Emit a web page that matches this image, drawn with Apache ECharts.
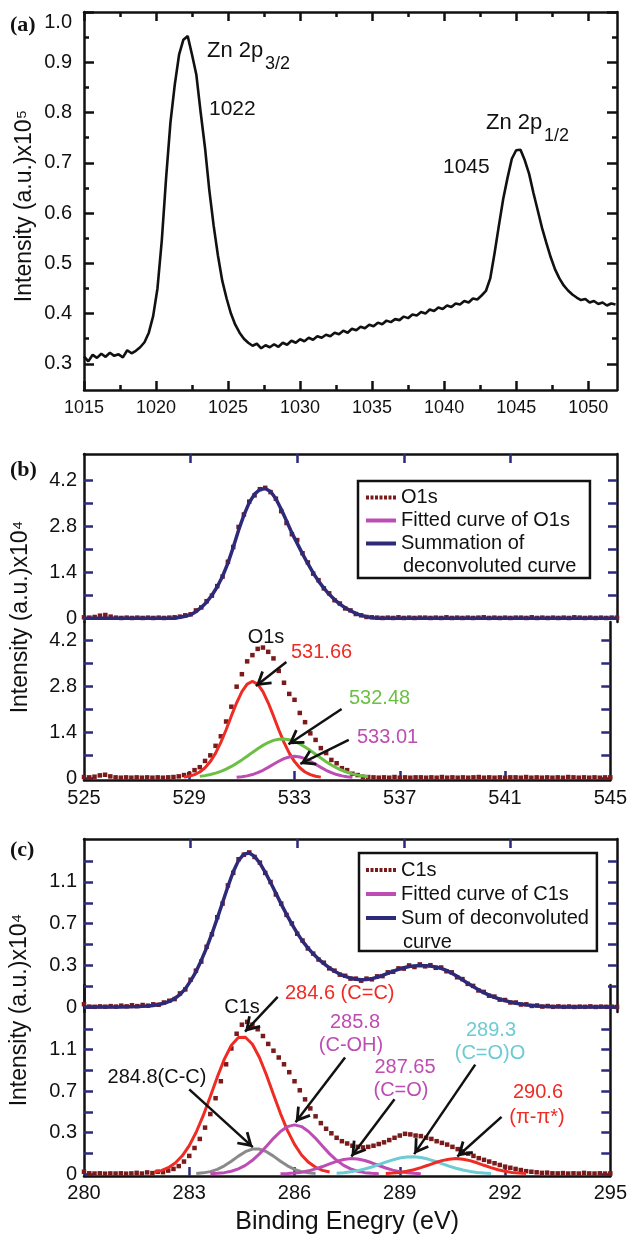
<!DOCTYPE html>
<html>
<head>
<meta charset="utf-8">
<title>XPS spectra</title>
<script src="https://cdn.jsdelivr.net/npm/echarts@6/dist/echarts.min.js"></script>
<style>
html, body { margin: 0; padding: 0; background: #fff; }
#chart { width: 630px; height: 1236px; }
</style>
</head>
<body>
<div id="chart"></div>
<script>
// energy grids (start, step, count)
function grid(start, step, n) {
    var out = [];
    for (var i = 0; i < n; i++) out.push(Math.round((start + i * step) * 100) / 100);
    return out;
}
function pairs(xs, ys) {
    return xs.map(function (x, i) { return [x, ys[i]]; });
}

// ---- (a) Zn 2p ----
var znEnergy = grid(1015, 0.3, 124);
var znIntensity = [
    0.315,0.305,0.318,0.312,0.320,0.314,0.322,0.316,0.319,0.313,
    0.327,0.321,0.326,0.333,0.343,0.362,0.395,0.450,0.545,0.670,
    0.780,0.855,0.915,0.945,0.952,0.915,0.875,0.800,0.730,0.645,
    0.575,0.515,0.465,0.430,0.400,0.378,0.362,0.350,0.342,0.336,
    0.340,0.331,0.337,0.333,0.339,0.334,0.342,0.338,0.346,0.342,
    0.349,0.345,0.352,0.348,0.355,0.352,0.358,0.355,0.362,0.359,
    0.366,0.362,0.370,0.367,0.374,0.371,0.378,0.375,0.382,0.379,
    0.386,0.383,0.389,0.387,0.394,0.391,0.398,0.396,0.403,0.400,
    0.408,0.405,0.412,0.409,0.416,0.413,0.420,0.418,0.425,0.422,
    0.430,0.428,0.436,0.445,0.470,0.520,0.575,0.628,0.670,0.708,
    0.725,0.726,0.705,0.678,0.640,0.605,0.570,0.540,0.512,0.488,
    0.470,0.456,0.446,0.438,0.432,0.427,0.429,0.422,0.425,0.419,
    0.422,0.416,0.420,0.418
];
var znTicksX = [1015, 1020, 1025, 1030, 1035, 1040, 1045, 1050];
var znMinorX = [1017.5, 1022.5, 1027.5, 1032.5, 1037.5, 1042.5, 1047.5];
var znTicksY = [0.3, 0.4, 0.5, 0.6, 0.7, 0.8, 0.9, 1.0];
var znMinorY = [0.35, 0.45, 0.55, 0.65, 0.75, 0.85, 0.95];

// ---- (b) O1s ----
var o1sEnergy = grid(525, 0.2, 101);
var o1sData = [
    0.03,0.02,0.04,0.08,0.10,0.05,0.02,0.01,0.02,0.01,0.02,0.01,0.02,0.01,0.02,0.01,0.02,0.03,
    0.05,0.09,0.12,0.24,0.33,0.52,0.69,0.98,1.27,1.72,
    2.17,2.78,3.16,3.55,3.74,3.93,3.97,3.84,3.64,3.26,
    2.90,2.56,2.38,1.98,1.70,1.36,1.16,0.91,0.76,0.55,
    0.45,0.30,0.24,0.13,0.09,0.04,0.03,
    0.02,0.01,0.02,0.01,0.03,0.01,0.02,0.01,0.02,0.02,
    0.01,0.02,0.01,0.03,0.01,0.02,0.01,0.02,0.01,0.02,
    0.03,0.01,0.02,0.01,0.02,0.01,0.02,0.02,0.01,0.03,
    0.01,0.02,0.01,0.02,0.01,0.02,0.01,0.03,0.02,0.01,
    0.02,0.01,0.02,0.01,0.02,0.02
];
var o1sSum = [
    0,0,0,0,0,0,0,0,0,0,0,0,0,0,0,0,0,0,
    0.03,0.06,0.11,0.20,0.33,0.49,0.70,0.96,1.28,1.68,
    2.16,2.68,3.14,3.52,3.78,3.92,3.95,3.86,3.64,3.32,
    2.96,2.60,2.28,1.96,1.66,1.38,1.13,0.92,0.73,0.57,
    0.43,0.32,0.23,0.15,0.09,0.05,0.02,
    0,0,0,0,0,0,0,0,0,0,0,0,0,0,0,0,0,0,0,0,0,0,0,
    0,0,0,0,0,0,0,0,0,0,0,0,0,0,0,0,0,0,0,0,0,0,0
];
var o1sPeak1 = [0.027,0.054,0.103,0.184,0.313,0.500,0.758,1.085,1.47,1.89,2.29,2.63,2.86,2.94,
    2.86,2.63,2.29,1.89,1.47,1.085,0.758,0.50,0.313,0.184,0.103,0.054,0.027];
var o1sPeak1Start = 528.8;
var o1sPeak2 = [0.05,0.073,0.106,0.149,0.203,0.271,0.352,0.446,0.552,0.664,0.78,0.891,0.994,1.08,
    1.145,1.18,1.19,1.166,1.115,1.04,0.945,0.836,0.722,0.607,0.498,0.398,0.31,0.236,0.174,
    0.126,0.088,0.061,0.04];
var o1sPeak2Start = 529.4;
var o1sPeak3 = [0.021,0.038,0.065,0.106,0.163,0.236,0.323,0.418,0.51,0.589,0.641,0.66,
    0.641,0.589,0.51,0.418,0.323,0.236,0.163,0.106,0.065,0.038,0.021];
var o1sPeak3Start = 530.8;
var o1sTicksX = [529, 533, 537, 541];
var o1sLabelsX = [525, 529, 533, 537, 541, 545];
var o1sTicksY = [0, 0.7, 1.4, 2.1, 2.8, 3.5, 4.2];
var o1sLabelsY = [0, 1.4, 2.8, 4.2];
var o1sArrows = [
    [[532.69, 3.53], [531.53, 2.80]],
    [[534.79, 2.10], [532.77, 1.03]],
    [[535.06, 1.16], [533.22, 0.43]]
];

// ---- (c) C1s ----
var c1sEnergy = grid(280, 0.15, 101);
var c1sTop = [
    0.025,0.004,0.002,0.006,0.003,0.008,0.004,0.012,0.006,0.016,
    0.008,0.018,0.012,0.024,0.02,0.04,0.055,0.07,0.12,0.155,
    0.24,0.32,0.40,0.53,0.64,0.79,0.91,1.07,1.18,1.30,
    1.34,1.36,1.32,1.27,1.18,1.10,0.99,0.91,0.81,0.735,
    0.645,0.585,0.515,0.47,0.418,0.39,0.34,0.32,0.285,0.275,
    0.25,0.25,0.232,0.25,0.244,0.27,0.272,0.305,0.31,0.34,
    0.338,0.366,0.352,0.375,0.358,0.368,0.345,0.348,0.315,0.305,
    0.262,0.246,0.204,0.186,0.146,0.133,0.1,0.092,0.065,0.062,
    0.04,0.04,0.022,0.024,0.01,0.014,0.004,0.009,0.002,0.006,
    0.002,0.005,0.001,0.004,0.002,0.006,0.001,0.004,0.002,0.003,0.001
];
var c1sSum = [
    0,0,0,0,0,0,0,0,0.002,0.003,
    0.004,0.006,0.009,0.014,0.022,0.033,0.05,0.075,0.11,0.16,
    0.23,0.31,0.41,0.52,0.645,0.78,0.92,1.06,1.19,1.29,
    1.345,1.355,1.325,1.265,1.185,1.095,1.0,0.905,0.815,0.73,
    0.65,0.58,0.52,0.468,0.422,0.382,0.346,0.315,0.29,0.27,
    0.255,0.245,0.24,0.242,0.25,0.262,0.278,0.296,0.315,0.332,
    0.346,0.356,0.362,0.365,0.364,0.36,0.352,0.34,0.322,0.298,
    0.27,0.24,0.21,0.18,0.152,0.127,0.105,0.086,0.07,0.056,
    0.044,0.034,0.026,0.019,0.014,0.01,0.007,0.005,0.003,0.002,
    0,0,0,0,0,0,0,0,0,0,0
];
var c1sBottom = [
    0.02,0.006,0.004,0.006,0.003,0.005,0.004,0.006,0.003,0.005,
    0.01,0.004,0.014,0.008,0.02,0.016,0.03,0.045,0.07,0.11,
    0.16,0.23,0.31,0.41,0.53,0.67,0.82,0.97,1.11,1.24,
    1.32,1.345,1.32,1.28,1.22,1.15,1.09,1.03,0.97,0.90,
    0.82,0.74,0.66,0.58,0.51,0.45,0.40,0.36,0.32,0.29,
    0.27,0.25,0.24,0.235,0.24,0.25,0.265,0.28,0.30,0.32,
    0.34,0.355,0.35,0.34,0.335,0.32,0.31,0.29,0.275,0.26,
    0.24,0.22,0.20,0.18,0.16,0.14,0.125,0.11,0.095,0.08,
    0.065,0.055,0.045,0.035,0.025,0.02,0.015,0.01,0.012,0.006,
    0.005,0.008,0.004,0.006,0.004,0.01,0.005,0.004,0.006,0.004,0.005
];
var ccPeak = [0.016,0.030,0.056,0.097,0.161,0.251,0.371,0.518,0.686,0.858,1.016,1.138,1.206,
    1.209,1.147,1.03,0.875,0.703,0.534,0.384,0.262,0.168,0.103,0.059,0.032,0.017];
var ccPeakStart = 282.0;
var cSinglePeak = [0.004,0.01,0.021,0.041,0.072,0.113,0.158,0.197,0.22,0.22,0.197,0.158,
    0.113,0.072,0.041,0.021,0.01,0.004];
var cSinglePeakStart = 283.2;
var cohPeak = [0.003,0.006,0.012,0.024,0.045,0.076,0.121,0.178,0.246,0.315,0.376,0.419,0.434,
    0.419,0.376,0.315,0.246,0.178,0.121,0.076,0.045,0.024,0.012,0.006,0.003];
var cohPeakStart = 283.6;
var coPeak = [0.002,0.004,0.009,0.016,0.028,0.045,0.066,0.089,0.112,0.128,0.136,0.132,0.119,
    0.099,0.075,0.053,0.034,0.021,0.011,0.006,0.003];
var coPeakStart = 285.6;
var cooPeak = [0.006,0.011,0.019,0.030,0.044,0.062,0.083,0.105,0.125,0.141,0.151,0.153,0.146,
    0.132,0.113,0.092,0.070,0.051,0.035,0.023,0.014,0.008,0.004];
var cooPeakStart = 287.2;
var piPeak = [0.004,0.008,0.014,0.024,0.038,0.056,0.077,0.099,0.118,0.131,0.136,0.131,0.118,
    0.099,0.077,0.056,0.038,0.024,0.014,0.008,0.004];
var piPeakStart = 288.6;
var c1sTicksX = [283, 286, 289, 292];
var c1sLabelsX = [280, 283, 286, 289, 292, 295];
var c1sTicksY = [0, 0.18333, 0.36667, 0.55, 0.73333, 0.91667, 1.1, 1.28333];
var c1sLabelsY = [0, 0.36667, 0.73333, 1.1];
var c1sLabelText = ['0', '0.3', '0.7', '1.1'];
var c1sArrows = [
    [[285.52, 1.566], [284.59, 1.258]],
    [[283.0, 0.748], [284.81, 0.237]],
    [[287.44, 1.03], [286.03, 0.457]],
    [[288.85, 0.66], [287.62, 0.155]],
    [[291.15, 0.967], [289.41, 0.176]],
    [[291.9, 0.505], [290.64, 0.155]]
];

var FONT = '"Liberation Sans", Arial, Helvetica, sans-serif';
var SERIF = '"Liberation Serif", "Times New Roman", serif';
var BLACK = '#111111';
var NAVY = '#2d2a7a';
var DARKRED = '#7a1a1a';
var RED = '#ee2c24';
var GREEN = '#6cbf45';
var MAGENTA = '#bd4db3';
var CYAN = '#6ccbd3';
var GRAY = '#8a8a8a';
var ARROW = 'path://M0,-15.5L0.01,-15.5L0,-15.4Z M0,0L9,14L6.5,15.5L0,5.5L-6.5,15.5L-9,14Z';
var DOTS = 'path://M0 0h3v4h-3zM4.5 0h3v4h-3zM9 0h3v4h-3zM13.5 0h3v4h-3zM18 0h3v4h-3zM22.5 0h3v4h-3zM27 0h3v4h-3z';
var BAR = 'path://M0 0h30v4h-30z';

function axis(gridIndex, position, min, max, o) {
    return {
        type: 'value', gridIndex: gridIndex, position: position, min: min, max: max,
        axisLine: {show: o.line !== false, onZero: false, lineStyle: {color: BLACK, width: 2.5}},
        axisTick: {show: true, inside: true, length: o.len || 9, customValues: o.ticks,
            lineStyle: {color: o.tickColor || NAVY, width: 2.5}},
        axisLabel: o.labels ? {
            show: true, customValues: o.labels, margin: o.margin || 7, color: BLACK,
            fontSize: o.fontSize || 20, fontFamily: FONT,
            formatter: o.formatter || function (v) { return String(v); },
            verticalAlignMaxLabel: o.topLabel
        } : {show: false},
        splitLine: {show: false}
    };
}
function fmt1(v) { return v === 0 ? '0' : v.toFixed(1); }

function peakLine(name, start, values, color, xi, yi, extra) {
    var s = {
        name: name, type: 'line', xAxisIndex: xi, yAxisIndex: yi,
        data: pairs(grid(start, 0.2, values.length), values),
        symbol: 'none', lineStyle: {color: color, width: 3}, itemStyle: {color: color}, z: 4
    };
    if (extra) s.markLine = extra;
    return s;
}
function squares(name, xs, ys, xi, yi) {
    return {
        name: name, type: 'line', xAxisIndex: xi, yAxisIndex: yi, data: pairs(xs, ys),
        symbol: 'rect', symbolSize: 4.5, showAllSymbol: true,
        lineStyle: {width: 0, opacity: 0}, itemStyle: {color: DARKRED}, z: 2
    };
}
function arrows(list) {
    return {
        silent: true, symbol: ['none', ARROW], symbolSize: [17, 30],
        label: {show: false}, emphasis: {disabled: true},
        lineStyle: {color: BLACK, width: 2.5, type: 'solid'},
        data: list.map(function (a) { return [{coord: a[0]}, {coord: a[1]}]; })
    };
}
function text(t, x, y, color, size, align) {
    return {type: 'text', x: x, y: y, silent: true,
        style: {text: t, fill: color || BLACK, font: (size || 20) + 'px ' + FONT,
            align: align || 'left', verticalAlign: 'middle'}};
}
function vtext(t, x, y) {
    var g = text(t, x, y, BLACK, 23, 'center');
    g.rotation = Math.PI / 2;
    return g;
}

var option = {
    animation: false,
    backgroundColor: '#fff',
    grid: [
        {left: 84, top: 12, width: 533, height: 378},
        {left: 84, top: 454, width: 533, height: 168},
        {left: 84, top: 622, width: 533, height: 158},
        {left: 84, top: 839, width: 533, height: 173},
        {left: 84, top: 985, width: 533, height: 192}
    ],
    xAxis: [
        axis(0, 'bottom', 1015, 1052, {ticks: znTicksX, tickColor: BLACK, len: 9, labels: znTicksX, fontSize: 18, margin: 9}),
        axis(0, 'bottom', 1015, 1052, {ticks: znMinorX, tickColor: BLACK, len: 5, line: false}),
        axis(0, 'top', 1015, 1052, {ticks: znTicksX, tickColor: BLACK, len: 9}),
        axis(0, 'top', 1015, 1052, {ticks: znMinorX, tickColor: BLACK, len: 5, line: false}),
        axis(1, 'top', 525, 545, {ticks: o1sTicksX}),
        axis(2, 'bottom', 525, 545, {ticks: o1sTicksX, labels: o1sLabelsX, margin: 8}),
        axis(3, 'top', 280, 295, {ticks: c1sTicksX}),
        Object.assign(axis(4, 'bottom', 280, 295, {ticks: c1sTicksX, labels: c1sLabelsX, margin: 7}), {
            name: 'Binding Enegry (eV)', nameLocation: 'middle', nameGap: 34,
            nameTextStyle: {fontSize: 25, fontFamily: FONT, color: BLACK}
        })
    ],
    yAxis: [
        axis(0, 'left', 0.248, 1.0, {ticks: znTicksY, tickColor: BLACK, len: 10, labels: znTicksY,
            formatter: fmt1, margin: 12, topLabel: 'top'}),
        axis(0, 'left', 0.248, 1.0, {ticks: znMinorY, tickColor: BLACK, len: 5, line: false}),
        axis(0, 'right', 0.248, 1.0, {ticks: znTicksY, tickColor: BLACK, len: 10}),
        axis(0, 'right', 0.248, 1.0, {ticks: znMinorY, tickColor: BLACK, len: 5, line: false}),
        axis(1, 'left', -0.113, 5.0, {ticks: o1sTicksY, labels: o1sLabelsY, formatter: fmt1}),
        axis(1, 'right', -0.113, 5.0, {ticks: o1sTicksY}),
        axis(2, 'left', -0.06, 4.748, {ticks: o1sTicksY, labels: o1sLabelsY, formatter: fmt1}),
        axis(2, 'right', -0.06, 4.748, {ticks: o1sTicksY}),
        axis(3, 'left', -0.0436, 1.478, {ticks: c1sTicksY, labels: c1sLabelsY,
            formatter: function (v) { return c1sLabelText[Math.round(v / 0.36667)]; }}),
        axis(3, 'right', -0.0436, 1.478, {ticks: c1sTicksY}),
        axis(4, 'left', -0.0177, 1.671, {ticks: c1sTicksY, labels: c1sLabelsY,
            formatter: function (v) { return c1sLabelText[Math.round(v / 0.36667)]; }}),
        axis(4, 'right', -0.0177, 1.671, {ticks: c1sTicksY})
    ],
    legend: [
        {
            left: 358, top: 481, orient: 'vertical', selectedMode: false,
            itemWidth: 30, itemHeight: 4, itemGap: 0,
            padding: [5, 20, 23, 8], borderColor: BLACK, borderWidth: 2.5,
            textStyle: {fontSize: 20, lineHeight: 23, fontFamily: FONT, color: BLACK},
            data: [
                {name: 'O1s', icon: DOTS, itemStyle: {color: DARKRED}},
                {name: 'Fitted curve of O1s', icon: BAR, itemStyle: {color: MAGENTA}},
                {name: 'Summation of deconvoluted curve', icon: BAR, itemStyle: {color: NAVY}}
            ],
            formatter: function (n) { return n === 'Summation of deconvoluted curve' ? 'Summation of' : n; }
        },
        {
            left: 359, top: 853, orient: 'vertical', selectedMode: false,
            itemWidth: 30, itemHeight: 4, itemGap: 0,
            padding: [5, 8, 21, 7], borderColor: BLACK, borderWidth: 2.5,
            textStyle: {fontSize: 20, lineHeight: 24, fontFamily: FONT, color: BLACK},
            data: [
                {name: 'C1s', icon: DOTS, itemStyle: {color: DARKRED}},
                {name: 'Fitted curve of C1s', icon: BAR, itemStyle: {color: MAGENTA}},
                {name: 'Sum of deconvoluted curve', icon: BAR, itemStyle: {color: NAVY}}
            ],
            formatter: function (n) { return n === 'Sum of deconvoluted curve' ? 'Sum of deconvoluted' : n; }
        }
    ],
    series: [
        {
            name: 'Zn 2p', type: 'line', xAxisIndex: 0, yAxisIndex: 0,
            data: pairs(znEnergy, znIntensity), symbol: 'none',
            lineStyle: {color: BLACK, width: 2.6}
        },
        // (b)
        squares('O1s', o1sEnergy, o1sData, 4, 4),
        {
            name: 'Summation of deconvoluted curve', type: 'line', xAxisIndex: 4, yAxisIndex: 4,
            data: pairs(o1sEnergy, o1sSum), symbol: 'none',
            lineStyle: {color: NAVY, width: 3.5}, itemStyle: {color: NAVY}, z: 3
        },
        squares('O1s', o1sEnergy, o1sData, 5, 6),
        peakLine('531.66', o1sPeak1Start, o1sPeak1, RED, 5, 6),
        peakLine('532.48', o1sPeak2Start, o1sPeak2, GREEN, 5, 6),
        Object.assign(peakLine('Fitted curve of O1s', o1sPeak3Start, o1sPeak3, MAGENTA, 5, 6, arrows(o1sArrows)), {clip: false}),
        // (c)
        squares('C1s', c1sEnergy, c1sTop, 6, 8),
        {
            name: 'Sum of deconvoluted curve', type: 'line', xAxisIndex: 6, yAxisIndex: 8,
            data: pairs(c1sEnergy, c1sSum), symbol: 'none',
            lineStyle: {color: NAVY, width: 3.5}, itemStyle: {color: NAVY}, z: 3
        },
        squares('C1s', c1sEnergy, c1sBottom, 7, 10),
        peakLine('284.6 (C=C)', ccPeakStart, ccPeak, RED, 7, 10),
        peakLine('284.8(C-C)', cSinglePeakStart, cSinglePeak, GRAY, 7, 10),
        peakLine('Fitted curve of C1s', cohPeakStart, cohPeak, MAGENTA, 7, 10),
        peakLine('287.65 (C=O)', coPeakStart, coPeak, MAGENTA, 7, 10),
        peakLine('289.3 (C=O)O', cooPeakStart, cooPeak, CYAN, 7, 10),
        Object.assign(peakLine('290.6 (π-π*)', piPeakStart, piPeak, RED, 7, 10, arrows(c1sArrows)), {clip: false})
    ],
    graphic: [
        {type: 'text', x: 10, y: 25, silent: true, style: {text: '(a)', font: 'bold 22px ' + SERIF, fill: BLACK, verticalAlign: 'middle'}},
        {type: 'text', x: 10, y: 470, silent: true, style: {text: '(b)', font: 'bold 22px ' + SERIF, fill: BLACK, verticalAlign: 'middle'}},
        {type: 'text', x: 10, y: 850, silent: true, style: {text: '(c)', font: 'bold 22px ' + SERIF, fill: BLACK, verticalAlign: 'middle'}},
        vtext('Intensity (a.u.)x10⁵', 25, 206),
        vtext('Intensity (a.u.)x10⁴', 21, 617),
        vtext('Intensity (a.u.)x10⁴', 20, 1010),
        // (a) peak labels
        text('Zn 2p', 207, 51, BLACK, 22),
        text('3/2', 265, 64, BLACK, 18),
        text('1022', 209, 109, BLACK, 21),
        text('Zn 2p', 486, 123, BLACK, 22),
        text('1/2', 544, 136, BLACK, 18),
        text('1045', 443, 167, BLACK, 21),
        // (b) labels
        text('deconvoluted curve', 403, 566, BLACK, 20),
        text('O1s', 266, 637, BLACK, 20, 'center'),
        text('531.66', 291, 652, RED, 20),
        text('532.48', 349, 698, GREEN, 20),
        text('533.01', 357, 737, MAGENTA, 20),
        // (c) labels
        text('curve', 403, 942, BLACK, 20),
        text('C1s', 242, 1007, BLACK, 20, 'center'),
        text('284.6 (C=C)', 285, 993, RED, 20),
        text('285.8', 355, 1022, MAGENTA, 20, 'center'),
        text('(C-OH)', 351, 1045, MAGENTA, 20, 'center'),
        text('287.65', 405, 1067, MAGENTA, 20, 'center'),
        text('(C=O)', 401, 1090, MAGENTA, 20, 'center'),
        text('289.3', 491, 1030, CYAN, 20, 'center'),
        text('(C=O)O', 490, 1053, CYAN, 20, 'center'),
        text('290.6', 538, 1092, RED, 20, 'center'),
        text('(π-π*)', 537, 1117, RED, 20, 'center'),
        text('284.8(C-C)', 157, 1077, BLACK, 20, 'center')
    ]
};

var myChart = echarts.init(document.getElementById('chart'), null, {renderer: 'canvas'});
myChart.setOption(option);
</script>
</body>
</html>
